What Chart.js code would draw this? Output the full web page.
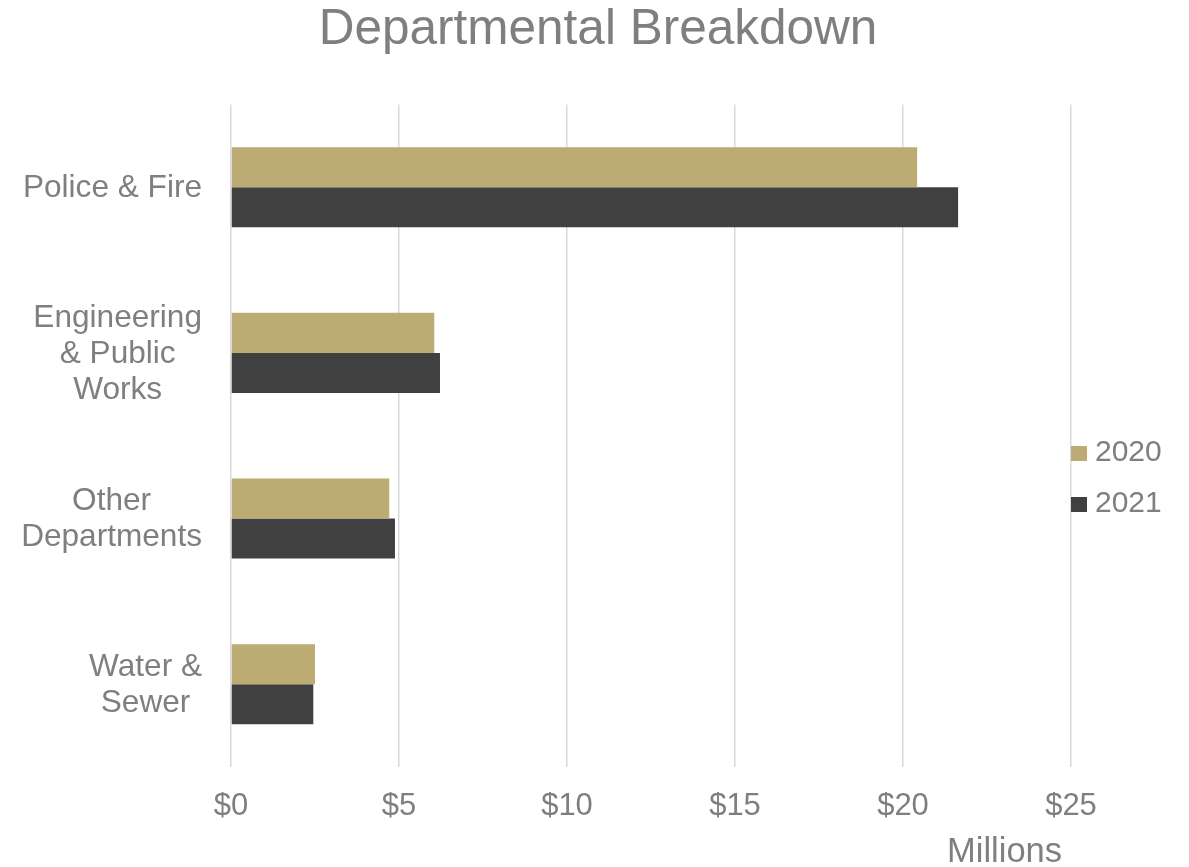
<!DOCTYPE html>
<html>
<head>
<meta charset="utf-8">
<title>Departmental Breakdown</title>
<script src="https://cdn.jsdelivr.net/npm/chart.js@4.4.0/dist/chart.umd.min.js"></script>
<style>
  html, body { margin: 0; padding: 0; background: #fff; }
  #wrap { width: 1189px; height: 867px; }
</style>
</head>
<body>
<div id="wrap"><canvas id="deptChart"></canvas></div>
<script>
// Departments (multi-line labels) and spending in millions
const departments = [['Police & Fire'], ['Engineering', '& Public', 'Works'], ['Other', 'Departments'], ['Water &', 'Sewer']];
const years = ['2020', '2021'];
const values2020 = [20.42, 6.05, 4.71, 2.50];
const values2021 = [21.64, 6.22, 4.88, 2.45];
const tickValues = [0, 5, 10, 15, 20, 25];

const textColor = '#7f7f7f';
const fontFamily = '"Liberation Sans", Arial, sans-serif';

// Category labels: each block right-aligned, its lines centered
const categoryLabels = {
    id: 'categoryLabels',
    afterDraw(chart) {
        const { ctx } = chart;
        const yScale = chart.scales.y;
        const right = 202, lineGap = 36;
        ctx.save();
        ctx.font = '31.6px ' + fontFamily;
        ctx.fillStyle = textColor;
        ctx.textAlign = 'center';
        ctx.textBaseline = 'middle';
        chart.data.labels.forEach((lines, i) => {
            const mid = yScale.getPixelForTick(i);
            const w = Math.max(...lines.map(l => ctx.measureText(l).width));
            const cx = right - w / 2;
            const top = mid - (lines.length - 1) * lineGap / 2;
            lines.forEach((l, j) => ctx.fillText(l, cx, top + j * lineGap + 1));
        });
        ctx.restore();
    }
};

// Legend on the right side plus the "Millions" unit label
const sideLegend = {
    id: 'sideLegend',
    afterDraw(chart) {
        const { ctx, chartArea } = chart;
        const firstY = 453, gap = 51;
        ctx.save();
        ctx.font = '30px ' + fontFamily;
        ctx.textBaseline = 'middle';
        ctx.textAlign = 'left';
        chart.data.datasets.forEach((ds, i) => {
            const yc = firstY + i * gap;
            ctx.fillStyle = ds.backgroundColor;
            ctx.fillRect(chartArea.right, yc - 7, 16, 15);
            ctx.fillStyle = textColor;
            ctx.fillText(ds.label, chartArea.right + 24, yc);
        });
        ctx.font = '34.5px ' + fontFamily;
        ctx.textAlign = 'right';
        ctx.fillText('Millions', chartArea.right - 9, chartArea.bottom + 85);
        ctx.restore();
    }
};

const ctx = document.getElementById('deptChart').getContext('2d');
const deptChart = new Chart(ctx, {
    type: 'bar',
    data: {
        labels: departments,
        datasets: [
            { label: years[0], data: values2020, backgroundColor: '#bcab73' },
            { label: years[1], data: values2021, backgroundColor: '#404040' }
        ]
    },
    options: {
        indexAxis: 'y',
        responsive: true,
        maintainAspectRatio: false,
        animation: false,
        datasets: {
            bar: { categoryPercentage: 0.483, barPercentage: 1.0 }
        },
        layout: {
            padding: { left: 7, right: 0, top: 0, bottom: 0 }
        },
        plugins: {
            legend: { display: false },
            tooltip: { enabled: false },
            title: {
                display: true,
                text: 'Departmental Breakdown',
                color: textColor,
                font: { family: fontFamily, size: 49.5, weight: 'normal' },
                padding: { top: 1, bottom: 44 }
            }
        },
        scales: {
            x: {
                type: 'linear',
                min: 0,
                max: 25,
                afterBuildTicks: (scale) => {
                    scale.ticks = tickValues.map(v => ({ value: v }));
                },
                afterFit: (scale) => { scale.height = 100; },
                grid: { color: '#d9d9d9', lineWidth: 1.5, drawTicks: false },
                border: { display: false },
                ticks: {
                    color: textColor,
                    padding: 21,
                    font: { family: fontFamily, size: 31 },
                    callback: (v) => '$' + v
                }
            },
            y: {
                type: 'category',
                afterFit: (scale) => { scale.width = 224; },
                grid: { display: false },
                border: { display: false },
                ticks: { display: false }
            },
            // empty right-hand axis keeps room for the legend
            legendSpace: {
                type: 'category',
                position: 'right',
                display: true,
                afterFit: (scale) => { scale.width = 118; },
                grid: { display: false },
                border: { display: false },
                ticks: { display: false }
            }
        }
    },
    plugins: [categoryLabels, sideLegend]
});
</script>
</body>
</html>
